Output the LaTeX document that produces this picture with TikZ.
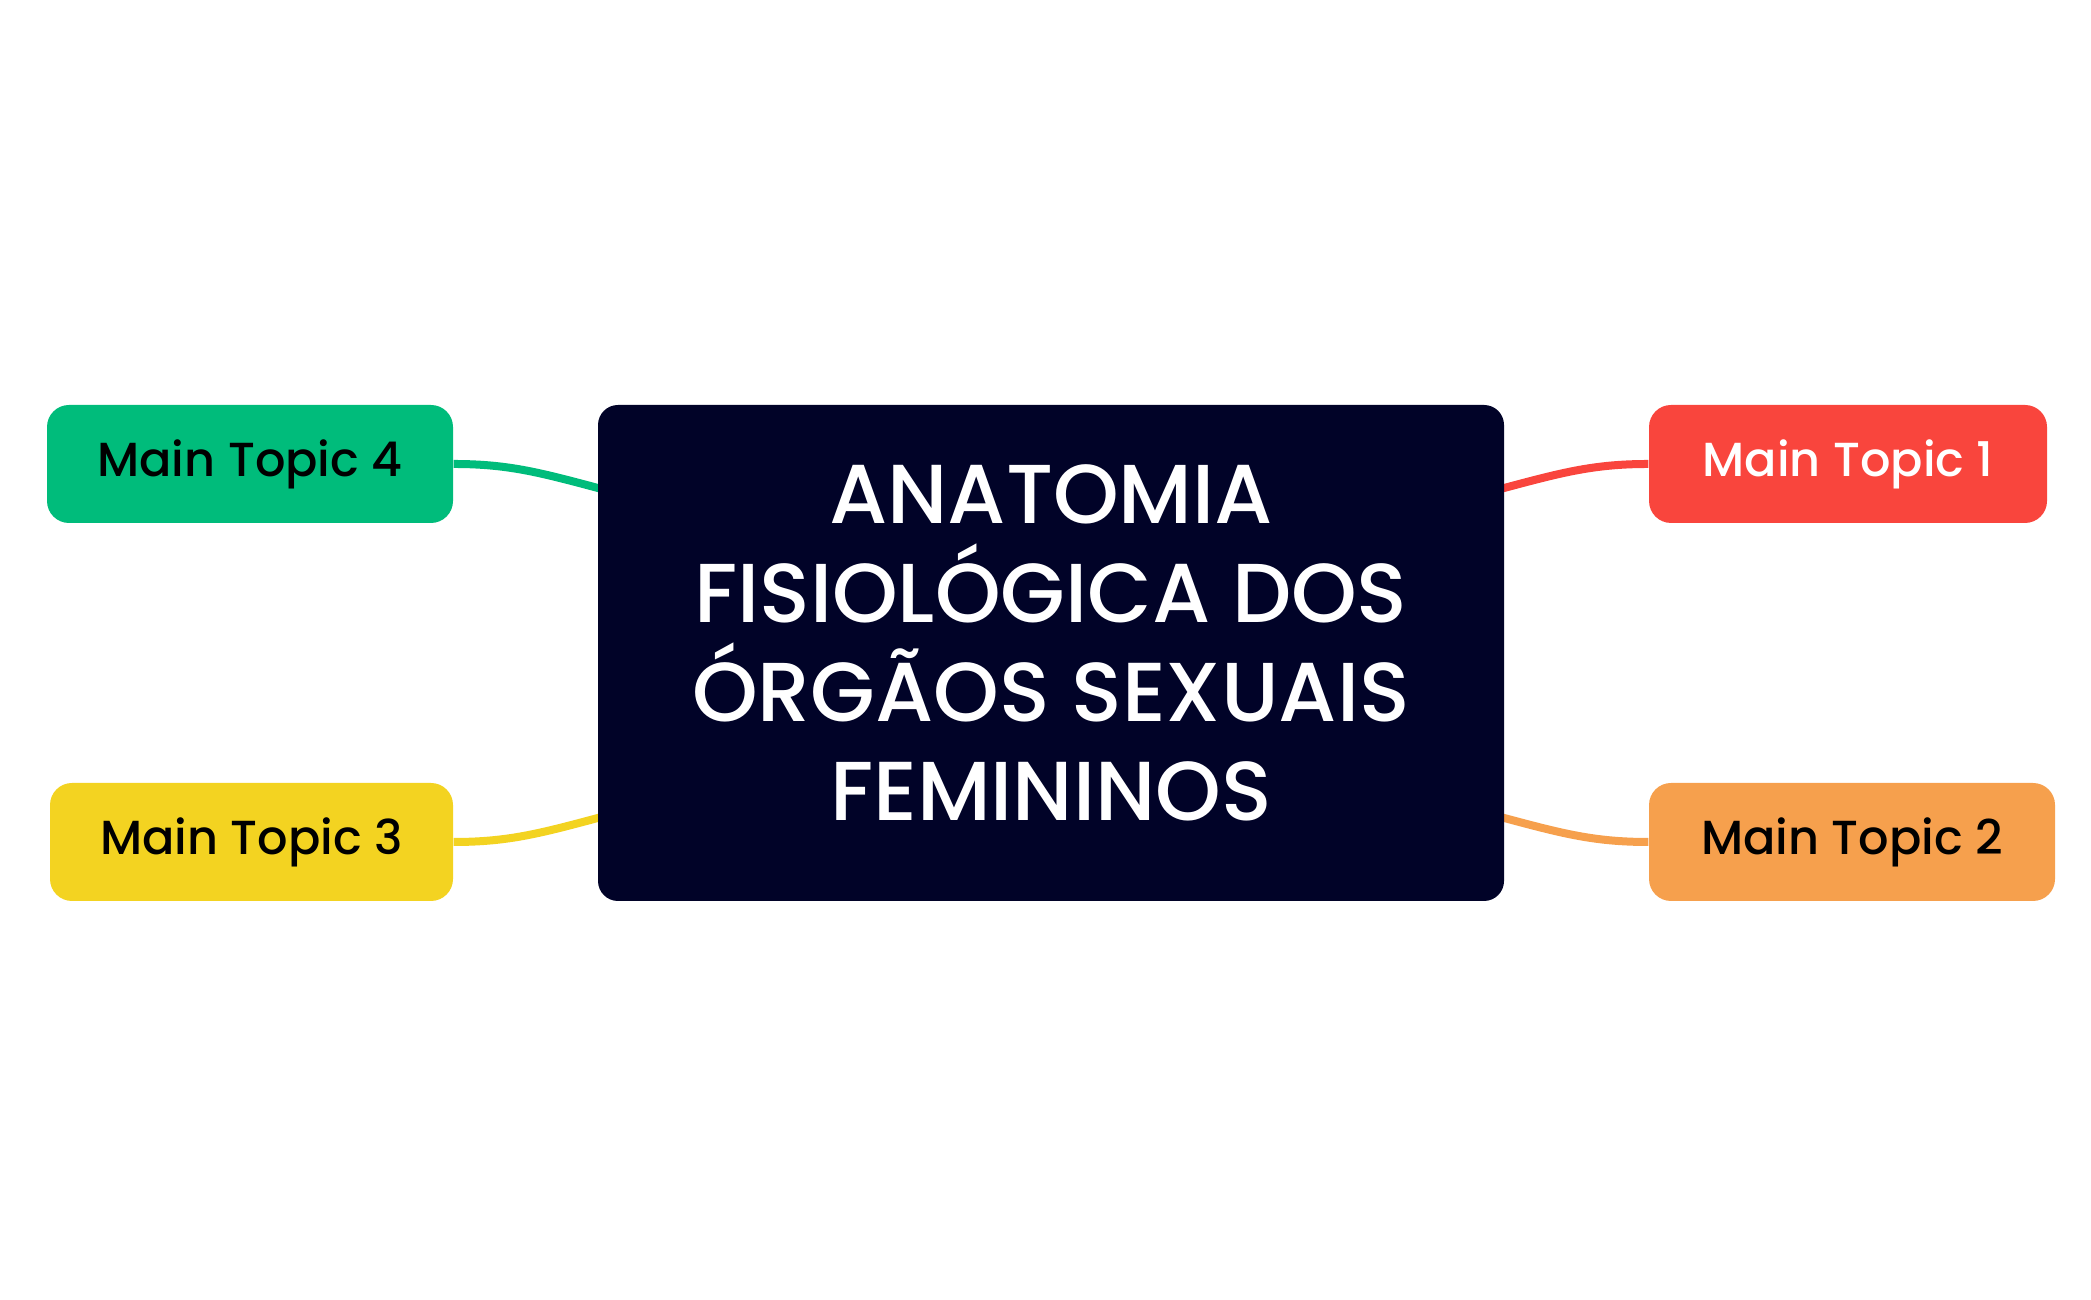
\documentclass[tikz,border=0pt]{standalone}
\usepackage{fontspec}
\setmainfont{Poppins}[UprightFont={* Medium}]
\usetikzlibrary{backgrounds}
\definecolor{navy}{RGB}{1,3,40}
\definecolor{topicred}{RGB}{249,69,61}
\definecolor{topicorange}{RGB}{246,160,77}
\definecolor{topicyellow}{RGB}{243,211,33}
\definecolor{topicgreen}{RGB}{0,188,123}
\begin{document}
\begin{tikzpicture}[
    central/.style={fill=navy,rounded corners=0.2cm,
        minimum width=9.06cm,minimum height=4.96cm,inner sep=0pt},
    title/.style={text=white,align=center,inner sep=0pt,
        font=\fontsize{23.8}{28.1}\selectfont},
    topic/.style={rounded corners=0.22cm,minimum height=1.18cm,inner sep=0pt,
        font=\fontsize{13.6}{16}\selectfont},
    branch/.style={line width=0.08cm,shorten <=-4pt}]
\useasboundingbox (0,0) rectangle (20.91,13);
% centre
\node[central] (main) at (10.51,6.47) {};
\node[title] (heading) at ([yshift=0.1cm]main.center)
    {ANATOMIA\\FISIOLÓGICA DOS\\ÓRGÃOS SEXUAIS\\FEMININOS};
% main topics
\node[topic,fill=topicred,text=white,minimum width=3.98cm] (t1) at (18.48,8.36) {Main Topic 1};
\node[topic,fill=topicorange,minimum width=4.06cm] (t2) at (18.52,4.58) {Main Topic 2};
\node[topic,fill=topicyellow,minimum width=4.03cm] (t3) at (2.515,4.58) {Main Topic 3};
\node[topic,fill=topicgreen,minimum width=4.06cm] (t4) at (2.50,8.36) {Main Topic 4};
% branches
\begin{pgfonlayer}{background}
\draw[branch,topicred]    (main.20)  to[out=15,in=180]   (t1.west);
\draw[branch,topicorange] (main.-20) to[out=-15,in=180]  (t2.west);
\draw[branch,topicyellow] (main.200) to[out=195,in=0]    (t3.east);
\draw[branch,topicgreen]  (main.160) to[out=165,in=0]    (t4.east);
\end{pgfonlayer}
\end{tikzpicture}
\end{document}
